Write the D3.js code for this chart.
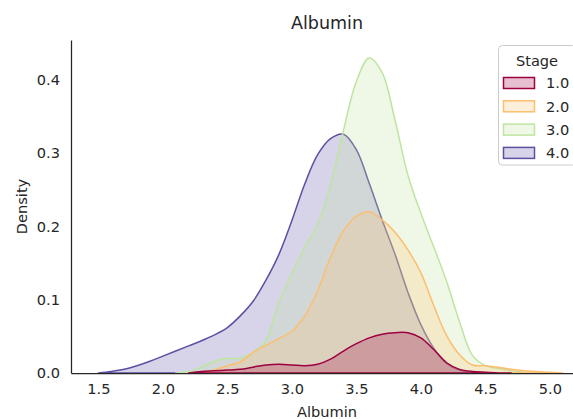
<!DOCTYPE html>
<html>
<head>
<meta charset="utf-8">
<script src="https://cdn.jsdelivr.net/npm/d3@7"></script>
<style>
  html, body { margin: 0; padding: 0; background: #fff; }
  svg { display: block; }
  text { font-family: "DejaVu Sans", sans-serif; fill: #262626; }
</style>
</head>
<body>
<svg id="chart" width="573" height="419"></svg>
<script>
// Albumin grid (g/dL) on which the kernel density of each stage is evaluated
const albumin = [1.5, 1.6, 1.7, 1.8, 1.9, 2.0, 2.1, 2.2, 2.3, 2.4, 2.5, 2.6, 2.7, 2.8, 2.9,
                 3.0, 3.1, 3.2, 3.3, 3.4, 3.5, 3.6, 3.7, 3.8, 3.9, 4.0, 4.1, 4.2, 4.3, 4.4,
                 4.5, 4.6, 4.7, 4.8, 4.9, 5.0, 5.1];

// Density per stage (null = outside that stage's support)
const stage1 = [null, null, null, null, null, null, null,
  0.000, 0.002, 0.003, 0.004, 0.005, 0.008, 0.011, 0.012, 0.011, 0.010, 0.012, 0.019,
  0.030, 0.040, 0.048, 0.053, 0.055, 0.055, 0.048, 0.032, 0.014, 0.005, 0.002, 0.001,
  0.000, 0.000, null, null, null, null];
const stage2 = [null, null, null, null, null, null, null,
  0.000, 0.001, 0.004, 0.010, 0.015, 0.028, 0.038, 0.047, 0.057, 0.078, 0.112, 0.158,
  0.194, 0.214, 0.220, 0.209, 0.192, 0.168, 0.137, 0.092, 0.051, 0.025, 0.011, 0.010,
  0.008, 0.005, 0.003, 0.002, 0.001, 0.000];
const stage3 = [null, null, null, null, null, null,
  0.000, 0.002, 0.008, 0.016, 0.020, 0.020, 0.028, 0.045, 0.097, 0.135, 0.172, 0.203,
  0.256, 0.331, 0.398, 0.430, 0.410, 0.345, 0.270, 0.218, 0.172, 0.125, 0.070, 0.024,
  0.010, 0.006, 0.003, 0.001, 0.000, null, null];
const stage4 = [0.000, 0.002, 0.005, 0.010, 0.016, 0.023, 0.030, 0.037, 0.044, 0.052,
  0.062, 0.078, 0.098, 0.127, 0.162, 0.208, 0.258, 0.298, 0.320, 0.326, 0.305, 0.259,
  0.209, 0.162, 0.110, 0.066, 0.034, 0.013, 0.004, 0.001, 0.000, 0.000,
  null, null, null, null, null];

const stageLabels = ["1.0", "2.0", "3.0", "4.0"];
const stageColors = ["#9e0142", "#fdbe6f", "#bee5a0", "#5e4fa2"];
const xTicks = [1.5, 2.0, 2.5, 3.0, 3.5, 4.0, 4.5, 5.0];
const yTicks = [0.0, 0.1, 0.2, 0.3, 0.4];

const stages = [stage1, stage2, stage3, stage4];

const svg = d3.select("#chart");
const margin = { left: 71, right: 583, top: 40, bottom: 373 };

const x = d3.scaleLinear().domain([1.288, 5.257]).range([margin.left, margin.right]);
const y = d3.scaleLinear().domain([0, 0.4546]).range([margin.bottom, margin.top]);

svg.append("defs").append("clipPath").attr("id", "plot-clip")
  .append("rect")
  .attr("x", margin.left).attr("y", margin.top - 2)
  .attr("width", margin.right - margin.left).attr("height", margin.bottom - margin.top + 2);

// Filled density curves; stage 4 first so stage 1 ends up on top
const area = d3.area()
  .defined(d => d[1] != null)
  .x(d => x(d[0]))
  .y0(y(0))
  .y1(d => Math.min(y(0), y(d[1])))
  .curve(d3.curveCatmullRom.alpha(0.5));

const plot = svg.append("g").attr("clip-path", "url(#plot-clip)");
for (let i = stages.length - 1; i >= 0; i--) {
  const pts = albumin.map((a, k) => [a, stages[i][k]]);
  plot.append("path")
    .attr("d", area(pts))
    .attr("fill", stageColors[i])
    .attr("fill-opacity", 0.25)
    .attr("stroke", stageColors[i])
    .attr("stroke-width", 1.5)
    .attr("stroke-linejoin", "round");
}

// Axes: only left and bottom spines, no tick marks
const xAxis = svg.append("g")
  .attr("transform", `translate(0,${margin.bottom})`)
  .call(d3.axisBottom(x).tickValues(xTicks).tickFormat(d3.format(".1f")).tickSize(0).tickPadding(11));
xAxis.select(".domain").attr("stroke", "#262626").attr("stroke-width", 1.25);
xAxis.selectAll("text").attr("font-size", "14.6px").attr("fill", "#262626")
  .attr("font-family", "DejaVu Sans, sans-serif");

const yAxis = svg.append("g")
  .attr("transform", `translate(${margin.left},0)`)
  .call(d3.axisLeft(y).tickValues(yTicks).tickFormat(d3.format(".1f")).tickSize(0).tickPadding(11));
yAxis.select(".domain").attr("stroke", "#262626").attr("stroke-width", 1.25);
yAxis.selectAll("text").attr("font-size", "14.6px").attr("fill", "#262626")
  .attr("font-family", "DejaVu Sans, sans-serif");

// Titles
svg.append("text")
  .attr("x", (margin.left + margin.right) / 2).attr("y", 29)
  .attr("text-anchor", "middle").attr("font-size", "17.5px")
  .text("Albumin");
svg.append("text")
  .attr("x", (margin.left + margin.right) / 2).attr("y", 417)
  .attr("text-anchor", "middle").attr("font-size", "14.6px")
  .text("Albumin");
svg.append("text")
  .attr("transform", `translate(27,${(margin.top + margin.bottom) / 2}) rotate(-90)`)
  .attr("text-anchor", "middle").attr("font-size", "14.6px")
  .text("Density");

// Legend
const legend = svg.append("g");
legend.append("rect")
  .attr("x", 498.5).attr("y", 45.5).attr("width", 78).attr("height", 119.5)
  .attr("rx", 4).attr("fill", "#fff").attr("fill-opacity", 0.8)
  .attr("stroke", "#cccccc").attr("stroke-width", 1);
legend.append("text")
  .attr("x", 537).attr("y", 66).attr("text-anchor", "middle")
  .attr("font-size", "14.6px").text("Stage");
stageLabels.forEach((lab, i) => {
  const cy = 83 + i * 23.3;
  legend.append("rect")
    .attr("x", 503.5).attr("y", cy - 5.5).attr("width", 31).attr("height", 11)
    .attr("fill", stageColors[i]).attr("fill-opacity", 0.25)
    .attr("stroke", stageColors[i]).attr("stroke-width", 1.5);
  legend.append("text")
    .attr("x", 546).attr("y", cy + 5.3)
    .attr("font-size", "14.6px").text(lab);
});
</script>
</body>
</html>
